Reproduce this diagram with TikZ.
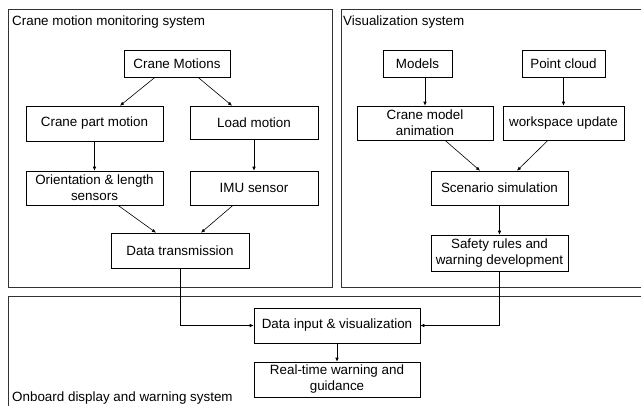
\documentclass[tikz,border=0pt]{standalone}
\usepackage{fontspec}
\setmainfont{Liberation Sans}
\usetikzlibrary{arrows.meta,calc}
\tikzset{
	blk/.style={draw, line width=0.6pt, fill=white, align=center, inner sep=0pt, font=\fontsize{13.4}{16}\selectfont},
	flow/.style={-{Latex[length=4pt,width=3.5pt]}, line width=0.6pt},
	panel/.style={draw=black!80, line width=0.9pt},
	paneltitle/.style={anchor=west, inner sep=0pt, font=\fontsize{13.4}{16}\selectfont},
}
% box from its corners: name, x1, y1, x2, y2, text
\newcommand{\blkat}[6]{
	\node[blk, minimum width={#4-#2}, minimum height={#5-#3}] (#1) at ({(#2+#4)/2},{(#3+#5)/2}) {#6};
}

\begin{document}
\begin{tikzpicture}[x=1pt,y=-1pt]
	\clip (0,0) rectangle (641,405);
	% the three panels
	\draw[panel] (8,9) rectangle (332,287);
	\draw[panel] (341,9) rectangle (650,287);
	\draw[panel] (8,296) rectangle (650,420);
	\node[paneltitle] (tmon) at (12,22) {Crane motion monitoring system};
	\node[paneltitle] (tvis) at (343,22) {Visualization system};
	\node[paneltitle] (tobd) at (12,398) {Onboard display and warning system};

	% monitoring
	\blkat{cm}{124}{50}{230}{77}{Crane Motions}
	\blkat{cpm}{26}{106}{163}{141}{Crane part motion}
	\blkat{lm}{190}{106}{318}{139}{Load motion}
	\blkat{ols}{26}{171}{163}{205}{Orientation \& length\\sensors}
	\blkat{imu}{190}{171}{318}{205}{IMU sensor}
	\blkat{dt}{111}{233}{249}{268}{Data transmission}

	% visualization
	\blkat{mod}{383}{50}{452}{77}{Models}
	\blkat{pc}{522}{50}{605}{77}{Point cloud}
	\blkat{cma}{357}{106}{493}{140}{Crane model\\animation}
	\blkat{ws}{503}{106}{624}{140}{workspace update}
	\blkat{ss}{431}{171}{568}{205}{Scenario simulation}
	\blkat{sr}{431}{235}{568}{271}{Safety rules and\\warning development}

	% onboard
	\blkat{din}{254}{308}{420}{343}{Data input \& visualization}
	\blkat{rtw}{254}{362}{420}{397}{Real-time warning and\\guidance}

	\draw[flow] ([xshift=-22pt]cm.south) -- ([xshift=25.5pt]cpm.north);
	\draw[flow] ([xshift=21pt]cm.south) -- ([xshift=-22pt]lm.north);
	\draw[flow] (cpm) -- (ols);
	\draw[flow] (lm) -- (imu);
	\draw[flow] ([xshift=23.5pt]ols.south) -- ([xshift=-24pt]dt.north);
	\draw[flow] ([xshift=-21pt]imu.south) -- ([xshift=21pt]dt.north);

	\draw[flow] ([xshift=7.5pt]mod.south) -- (cma.north);
	\draw[flow] (pc) -- (ws);
	\draw[flow] ([xshift=20pt]cma.south) -- ([xshift=-19.5pt]ss.north);
	\draw[flow] ([xshift=-15.5pt]ws.south) -- ([xshift=17.5pt]ss.north);
	\draw[flow] (ss) -- (sr);

	\draw[flow] (dt.south) |- (din.west);
	\draw[flow] (sr.south) |- (din.east);
	\draw[flow] (din) -- (rtw);
\end{tikzpicture}
\end{document}
